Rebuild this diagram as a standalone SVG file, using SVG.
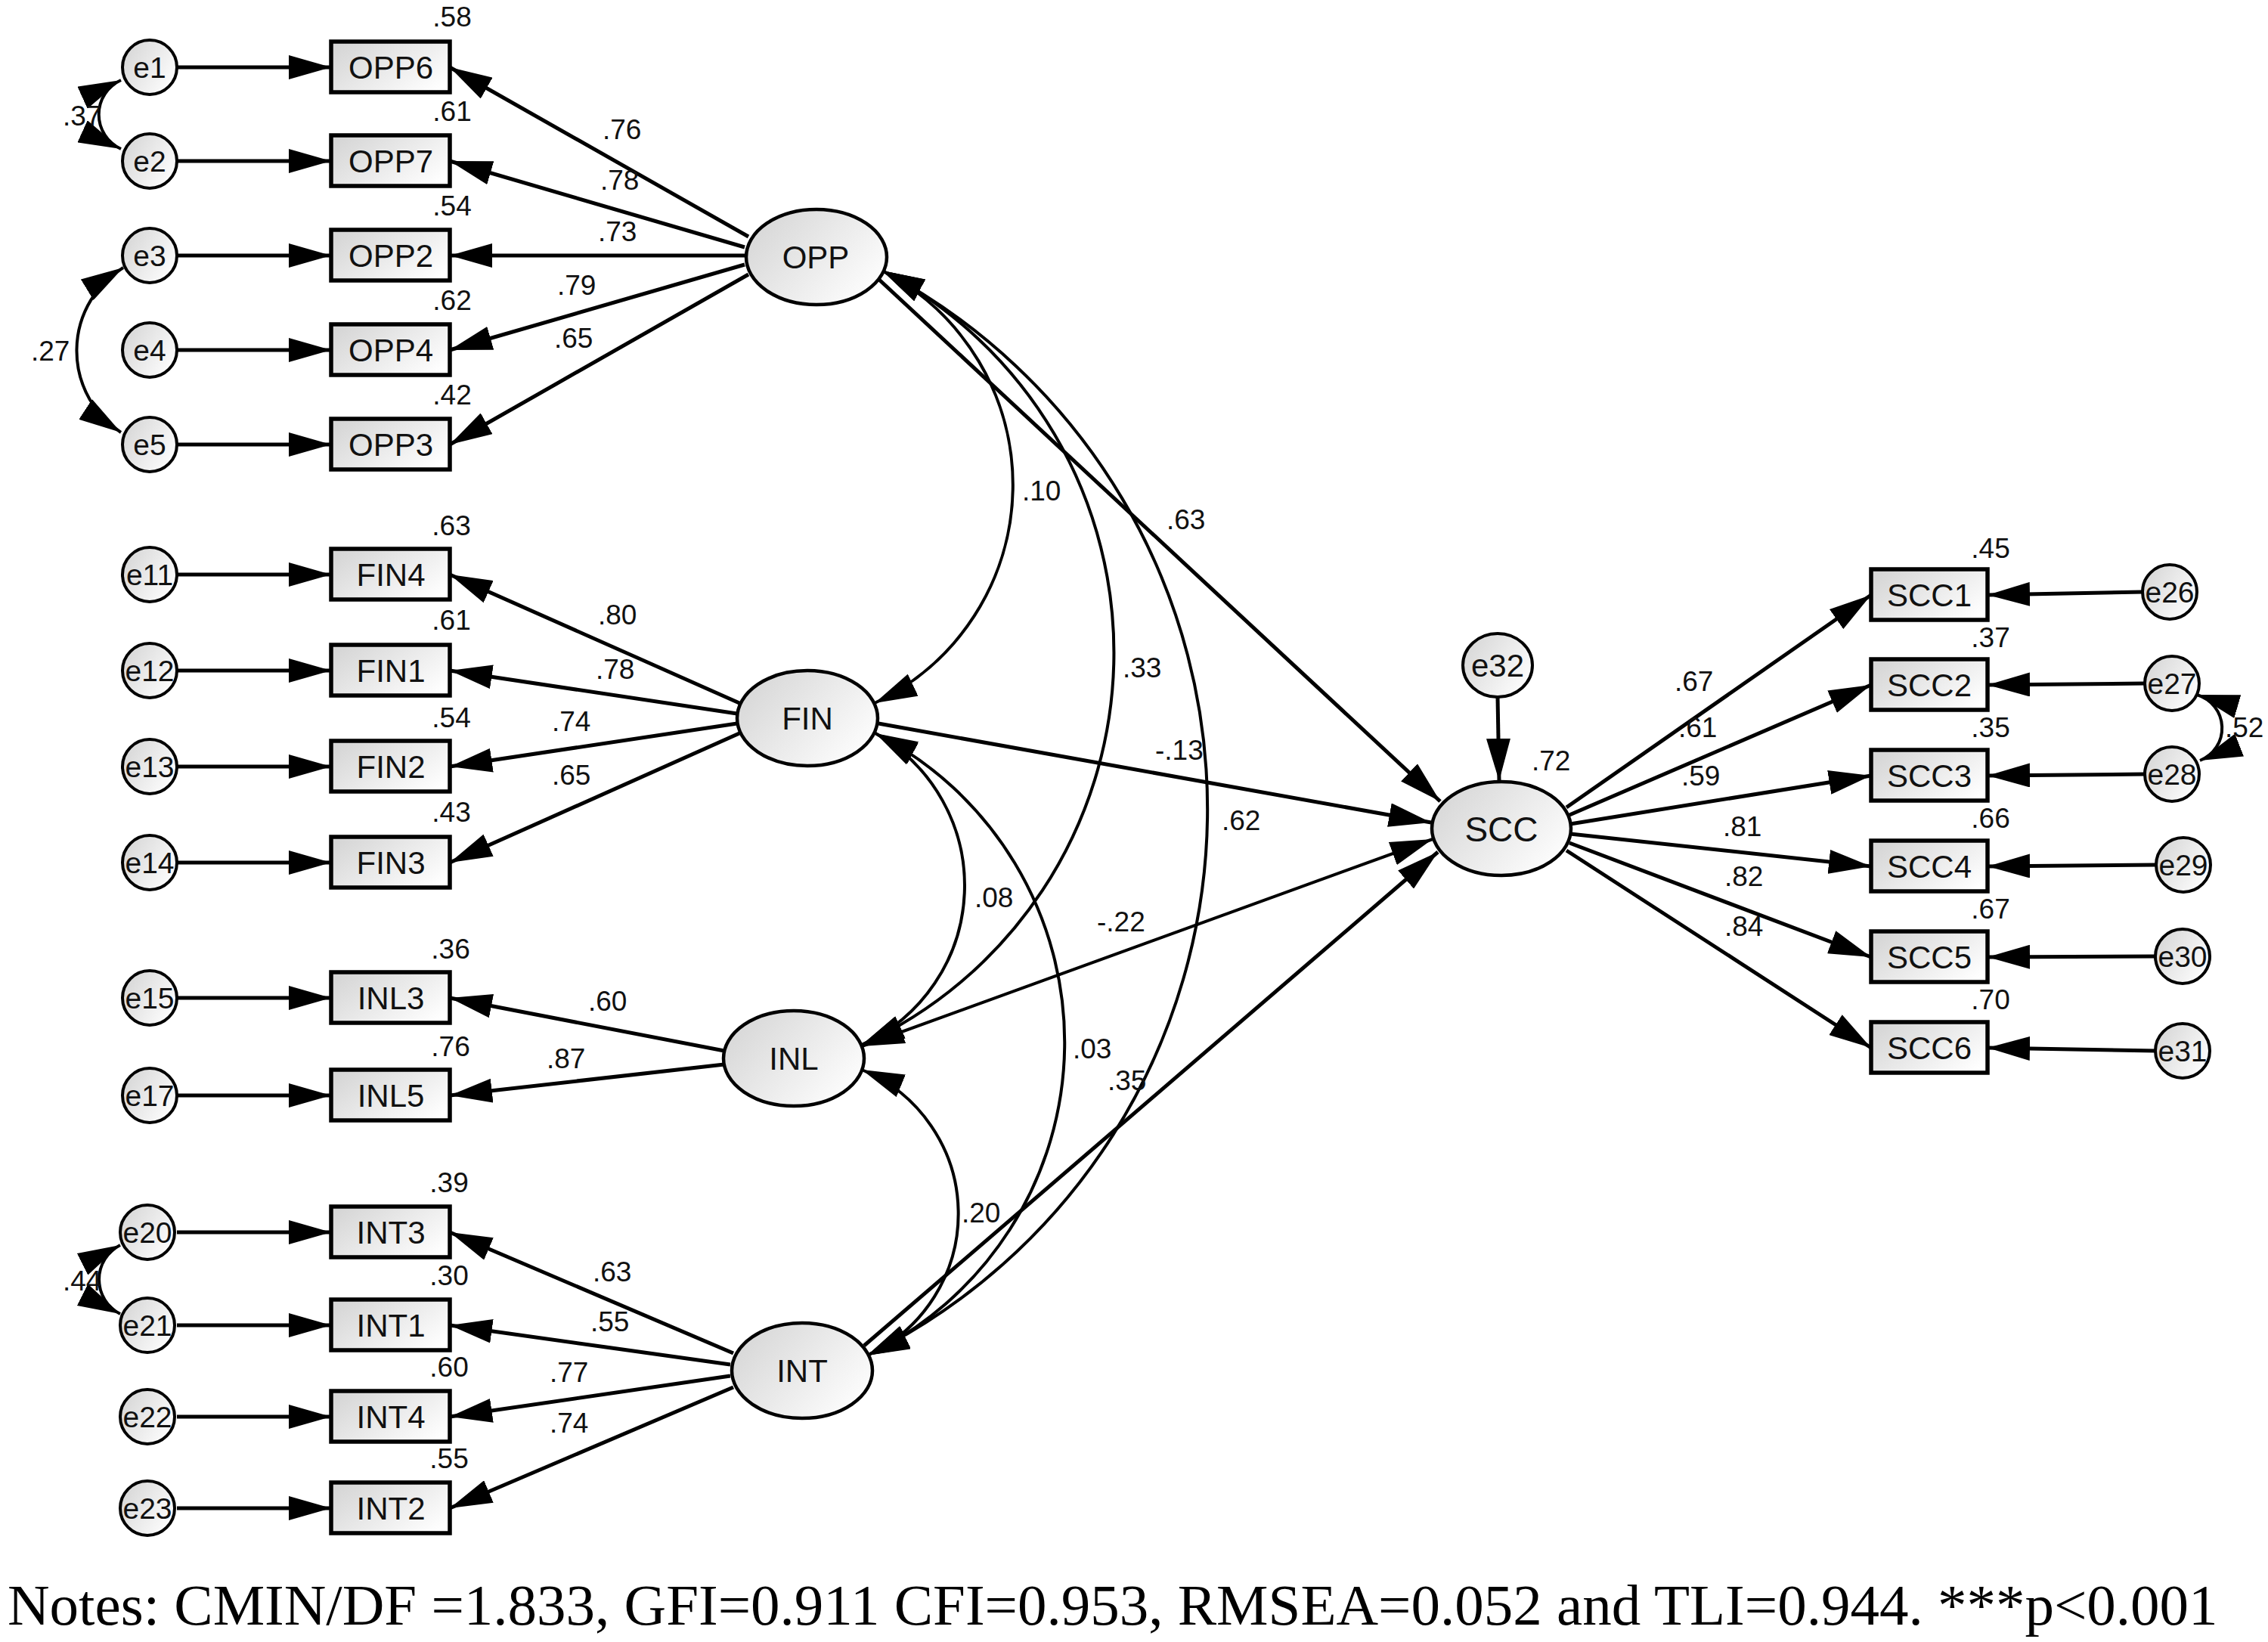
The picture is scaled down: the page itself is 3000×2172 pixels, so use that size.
<svg xmlns="http://www.w3.org/2000/svg" width="3000" height="2172" viewBox="0 0 3000 2172">
<defs>
<linearGradient id="gf" x1="0" y1="0.2" x2="1" y2="0.8">
<stop offset="0" stop-color="#d6d6d6"/>
<stop offset="1" stop-color="#ffffff"/>
</linearGradient>
<marker id="ah" markerUnits="userSpaceOnUse" markerWidth="56" markerHeight="32" viewBox="0 0 56 32" refX="56" refY="16" orient="auto">
<path d="M0,0 L56,16 L0,32 Z" fill="#000"/>
</marker>
<marker id="ahs" markerUnits="userSpaceOnUse" markerWidth="56" markerHeight="32" viewBox="0 0 56 32" refX="56" refY="16" orient="auto-start-reverse">
<path d="M0,0 L56,16 L0,32 Z" fill="#000"/>
</marker>
<style>
.c{fill:none;stroke:#000;stroke-width:5;marker-end:url(#ah)}
.d{fill:none;stroke:#000;stroke-width:4;marker-start:url(#ahs);marker-end:url(#ahs)}
.box{fill:url(#gf);stroke:#000;stroke-width:5.5}
.lat{fill:url(#gf);stroke:#000;stroke-width:4.5}
.err{fill:url(#gf);stroke:#000;stroke-width:4}
.bt{font-family:"Liberation Sans",Arial,sans-serif;font-size:42px;text-anchor:middle;fill:#111}
.lt{font-family:"Liberation Sans",Arial,sans-serif;font-size:42px;text-anchor:middle;fill:#111}
.et{font-family:"Liberation Sans",Arial,sans-serif;font-size:39px;text-anchor:middle;fill:#111}
.n{font-family:"Liberation Sans",Arial,sans-serif;font-size:37px;fill:#111}
.r{font-family:"Liberation Sans",Arial,sans-serif;font-size:37px;text-anchor:middle;fill:#111}
.note{font-family:"Liberation Serif","Times New Roman",serif;font-size:77px;fill:#000}
</style>
</defs>
<rect width="3000" height="2172" fill="#fff"/>

<g id="connectors">
<path class="c" d="M234,89 L438,89"/>
<path class="c" d="M234,213 L438,213"/>
<path class="c" d="M234,338 L438,338"/>
<path class="c" d="M234,463 L438,463"/>
<path class="c" d="M234,588 L438,588"/>
<path class="c" d="M234,760 L438,760"/>
<path class="c" d="M234,887 L438,887"/>
<path class="c" d="M234,1014 L438,1014"/>
<path class="c" d="M234,1141 L438,1141"/>
<path class="c" d="M234,1320 L438,1320"/>
<path class="c" d="M234,1449 L438,1449"/>
<path class="c" d="M234,1630 L438,1630"/>
<path class="c" d="M234,1753 L438,1753"/>
<path class="c" d="M234,1874 L438,1874"/>
<path class="c" d="M234,1995 L438,1995"/>
<path class="c" d="M990,313 L595,89"/>
<path class="c" d="M985,327 L595,213"/>
<path class="c" d="M985,338 L595,338"/>
<path class="c" d="M985,350 L595,463"/>
<path class="c" d="M990,363 L595,588"/>
<path class="c" d="M978,930 L595,760"/>
<path class="c" d="M975,944 L595,887"/>
<path class="c" d="M975,957 L595,1014"/>
<path class="c" d="M978,970 L595,1141"/>
<path class="c" d="M958,1390 L595,1320"/>
<path class="c" d="M958,1408 L595,1449"/>
<path class="c" d="M970,1790 L595,1630"/>
<path class="c" d="M966,1805 L595,1753"/>
<path class="c" d="M966,1820 L595,1874"/>
<path class="c" d="M970,1835 L595,1995"/>
<path class="c" d="M2072,1068 L2475,787"/>
<path class="c" d="M2076,1078 L2475,906"/>
<path class="c" d="M2077,1090 L2475,1026"/>
<path class="c" d="M2077,1103 L2475,1146"/>
<path class="c" d="M2076,1115 L2475,1266"/>
<path class="c" d="M2072,1125 L2475,1386"/>
<path class="c" d="M2834,783 L2629,787"/>
<path class="c" d="M2837,904 L2629,906"/>
<path class="c" d="M2837,1024 L2629,1026"/>
<path class="c" d="M2852,1144 L2629,1146"/>
<path class="c" d="M2851,1265 L2629,1266"/>
<path class="c" d="M2851,1390 L2629,1386"/>
<path class="c" d="M1163,370 L1905,1060"/>
<path class="c" d="M1162,957 L1893,1088"/>
<path class="d" d="M1140,1384 L1895,1110"/>
<path class="c" d="M1143,1780 L1902,1127"/>
<path class="c" d="M1981,922 L1983,1033"/>
<path class="d" d="M1167,358 A319,319 0 0 1 1157,930"/>
<path class="d" d="M1167,358 A570,570 0 0 1 1140,1382"/>
<path class="d" d="M1167,358 A805,805 0 0 1 1147,1793"/>
<path class="d" d="M1158,970 A231,231 0 0 1 1140,1382"/>
<path class="d" d="M1158,970 A459,459 0 0 1 1147,1793"/>
<path class="d" d="M1140,1415 A206,206 0 0 1 1147,1793"/>
<path class="d" d="M160,106 A50,50 0 0 0 160,197"/>
<path class="d" d="M163,354 A129,129 0 0 0 160,572"/>
<path class="d" d="M159,1647 A51,51 0 0 0 159,1738"/>
<path class="d" d="M2906,919 A46,46 0 0 1 2910,1006"/>
</g>

<g id="labels">
<text class="n" x="797" y="184">.76</text>
<text class="n" x="794" y="251">.78</text>
<text class="n" x="791" y="319">.73</text>
<text class="n" x="737" y="390">.79</text>
<text class="n" x="733" y="460">.65</text>
<text class="n" x="791" y="826">.80</text>
<text class="n" x="788" y="898">.78</text>
<text class="n" x="730" y="967">.74</text>
<text class="n" x="730" y="1038">.65</text>
<text class="n" x="778" y="1337">.60</text>
<text class="n" x="723" y="1413">.87</text>
<text class="n" x="784" y="1695">.63</text>
<text class="n" x="781" y="1761">.55</text>
<text class="n" x="727" y="1828">.77</text>
<text class="n" x="727" y="1895">.74</text>
<text class="n" x="2215" y="914">.67</text>
<text class="n" x="2220" y="975">.61</text>
<text class="n" x="2224" y="1039">.59</text>
<text class="n" x="2279" y="1106">.81</text>
<text class="n" x="2281" y="1172">.82</text>
<text class="n" x="2281" y="1238">.84</text>
<text class="n" x="83" y="166">.37</text>
<text class="n" x="41" y="477">.27</text>
<text class="n" x="83" y="1707">.44</text>
<text class="n" x="2943" y="975">.52</text>
<text class="n" x="1352" y="662">.10</text>
<text class="n" x="1543" y="700">.63</text>
<text class="n" x="1485" y="896">.33</text>
<text class="n" x="1528" y="1005">-.13</text>
<text class="n" x="1616" y="1098">.62</text>
<text class="n" x="1289" y="1200">.08</text>
<text class="n" x="1451" y="1232">-.22</text>
<text class="n" x="1419" y="1400">.03</text>
<text class="n" x="1465" y="1442">.35</text>
<text class="n" x="1272" y="1617">.20</text>
</g>

<g id="OPP"><ellipse class="lat" cx="1080" cy="340" rx="93" ry="63"/><text class="lt" x="1079" y="355">OPP</text></g>
<g id="FIN"><ellipse class="lat" cx="1068" cy="950" rx="93" ry="63"/><text class="lt" x="1068" y="965">FIN</text></g>
<g id="INL"><ellipse class="lat" cx="1050" cy="1400" rx="93" ry="63"/><text class="lt" x="1050" y="1415">INL</text></g>
<g id="INT"><ellipse class="lat" cx="1061" cy="1813" rx="93" ry="63"/><text class="lt" x="1061" y="1828">INT</text></g>
<g id="SCC"><ellipse class="lat" cx="1986" cy="1096" rx="92" ry="62"/><text class="lt" x="1986" y="1113" style="font-size:46px">SCC</text><text class="n" x="2026" y="1019">.72</text></g>
<g id="e32"><ellipse class="err" cx="1981" cy="880" rx="46" ry="42"/><text class="et" x="1981" y="895" style="font-size:42px">e32</text></g>

<g id="OPP6"><rect class="box" x="438" y="55" width="157" height="67"/><text class="bt" x="517" y="104">OPP6</text><text class="r" x="598" y="35">.58</text></g>
<g id="OPP7"><rect class="box" x="438" y="179" width="157" height="67"/><text class="bt" x="517" y="228">OPP7</text><text class="r" x="598" y="160">.61</text></g>
<g id="OPP2"><rect class="box" x="438" y="304" width="157" height="67"/><text class="bt" x="517" y="353">OPP2</text><text class="r" x="598" y="285">.54</text></g>
<g id="OPP4"><rect class="box" x="438" y="429" width="157" height="67"/><text class="bt" x="517" y="478">OPP4</text><text class="r" x="598" y="410">.62</text></g>
<g id="OPP3"><rect class="box" x="438" y="554" width="157" height="67"/><text class="bt" x="517" y="603">OPP3</text><text class="r" x="598" y="535">.42</text></g>
<g id="FIN4"><rect class="box" x="438" y="726" width="157" height="67"/><text class="bt" x="517" y="775">FIN4</text><text class="r" x="597" y="708">.63</text></g>
<g id="FIN1"><rect class="box" x="438" y="853" width="157" height="67"/><text class="bt" x="517" y="902">FIN1</text><text class="r" x="597" y="833">.61</text></g>
<g id="FIN2"><rect class="box" x="438" y="980" width="157" height="67"/><text class="bt" x="517" y="1029">FIN2</text><text class="r" x="597" y="962">.54</text></g>
<g id="FIN3"><rect class="box" x="438" y="1107" width="157" height="67"/><text class="bt" x="517" y="1156">FIN3</text><text class="r" x="597" y="1087">.43</text></g>
<g id="INL3"><rect class="box" x="438" y="1286" width="157" height="67"/><text class="bt" x="517" y="1335">INL3</text><text class="r" x="596" y="1268">.36</text></g>
<g id="INL5"><rect class="box" x="438" y="1415" width="157" height="67"/><text class="bt" x="517" y="1464">INL5</text><text class="r" x="596" y="1397">.76</text></g>
<g id="INT3"><rect class="box" x="438" y="1596" width="157" height="67"/><text class="bt" x="517" y="1645">INT3</text><text class="r" x="594" y="1577">.39</text></g>
<g id="INT1"><rect class="box" x="438" y="1719" width="157" height="67"/><text class="bt" x="517" y="1768">INT1</text><text class="r" x="594" y="1700">.30</text></g>
<g id="INT4"><rect class="box" x="438" y="1840" width="157" height="67"/><text class="bt" x="517" y="1889">INT4</text><text class="r" x="594" y="1821">.60</text></g>
<g id="INT2"><rect class="box" x="438" y="1961" width="157" height="67"/><text class="bt" x="517" y="2010">INT2</text><text class="r" x="594" y="1942">.55</text></g>

<g id="SCC1"><rect class="box" x="2475" y="753" width="154" height="67"/><text class="bt" x="2552" y="802">SCC1</text><text class="r" x="2633" y="738">.45</text></g>
<g id="SCC2"><rect class="box" x="2475" y="872" width="154" height="67"/><text class="bt" x="2552" y="921">SCC2</text><text class="r" x="2633" y="856">.37</text></g>
<g id="SCC3"><rect class="box" x="2475" y="992" width="154" height="67"/><text class="bt" x="2552" y="1041">SCC3</text><text class="r" x="2633" y="975">.35</text></g>
<g id="SCC4"><rect class="box" x="2475" y="1112" width="154" height="67"/><text class="bt" x="2552" y="1161">SCC4</text><text class="r" x="2633" y="1095">.66</text></g>
<g id="SCC5"><rect class="box" x="2475" y="1232" width="154" height="67"/><text class="bt" x="2552" y="1281">SCC5</text><text class="r" x="2633" y="1215">.67</text></g>
<g id="SCC6"><rect class="box" x="2475" y="1352" width="154" height="67"/><text class="bt" x="2552" y="1401">SCC6</text><text class="r" x="2633" y="1335">.70</text></g>

<g id="e1"><circle class="err" cx="198" cy="89" r="36"/><text class="et" x="198" y="103">e1</text></g>
<g id="e2"><circle class="err" cx="198" cy="213" r="36"/><text class="et" x="198" y="227">e2</text></g>
<g id="e3"><circle class="err" cx="198" cy="338" r="36"/><text class="et" x="198" y="352">e3</text></g>
<g id="e4"><circle class="err" cx="198" cy="463" r="36"/><text class="et" x="198" y="477">e4</text></g>
<g id="e5"><circle class="err" cx="198" cy="588" r="36"/><text class="et" x="198" y="602">e5</text></g>
<g id="e11"><circle class="err" cx="198" cy="760" r="36"/><text class="et" x="198" y="774">e11</text></g>
<g id="e12"><circle class="err" cx="198" cy="887" r="36"/><text class="et" x="198" y="901">e12</text></g>
<g id="e13"><circle class="err" cx="198" cy="1014" r="36"/><text class="et" x="198" y="1028">e13</text></g>
<g id="e14"><circle class="err" cx="198" cy="1141" r="36"/><text class="et" x="198" y="1155">e14</text></g>
<g id="e15"><circle class="err" cx="198" cy="1320" r="36"/><text class="et" x="198" y="1334">e15</text></g>
<g id="e17"><circle class="err" cx="198" cy="1449" r="36"/><text class="et" x="198" y="1463">e17</text></g>
<g id="e20"><circle class="err" cx="195" cy="1630" r="36"/><text class="et" x="195" y="1644">e20</text></g>
<g id="e21"><circle class="err" cx="195" cy="1753" r="36"/><text class="et" x="195" y="1767">e21</text></g>
<g id="e22"><circle class="err" cx="195" cy="1874" r="36"/><text class="et" x="195" y="1888">e22</text></g>
<g id="e23"><circle class="err" cx="195" cy="1995" r="36"/><text class="et" x="195" y="2009">e23</text></g>
<g id="e26"><circle class="err" cx="2870" cy="783" r="36"/><text class="et" x="2870" y="797">e26</text></g>
<g id="e27"><circle class="err" cx="2873" cy="904" r="36"/><text class="et" x="2873" y="918">e27</text></g>
<g id="e28"><circle class="err" cx="2873" cy="1024" r="36"/><text class="et" x="2873" y="1038">e28</text></g>
<g id="e29"><circle class="err" cx="2888" cy="1144" r="36"/><text class="et" x="2888" y="1158">e29</text></g>
<g id="e30"><circle class="err" cx="2887" cy="1265" r="36"/><text class="et" x="2887" y="1279">e30</text></g>
<g id="e31"><circle class="err" cx="2887" cy="1390" r="36"/><text class="et" x="2887" y="1404">e31</text></g>

<text class="note" x="10" y="2149">Notes: CMIN/DF =1.833, GFI=0.911 CFI=0.953, RMSEA=0.052 and TLI=0.944. ***p&lt;0.001</text>
</svg>
